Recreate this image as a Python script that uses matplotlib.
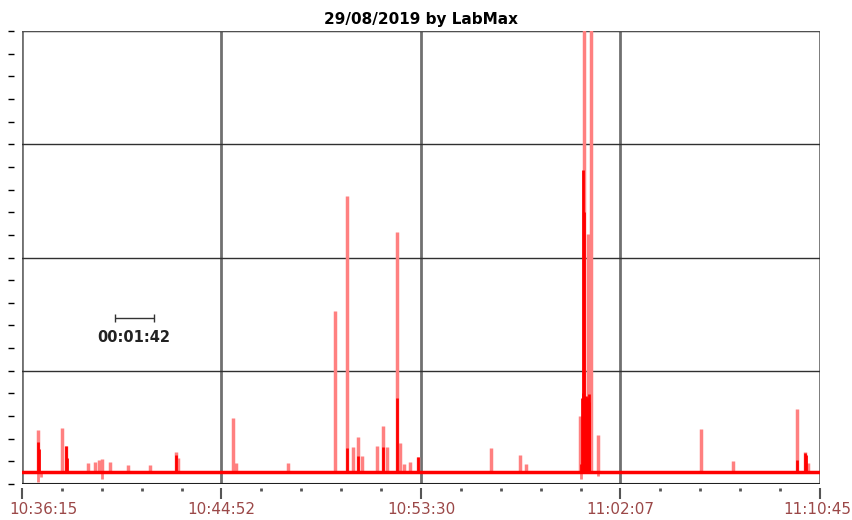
import matplotlib.pyplot as plt
from matplotlib.ticker import MultipleLocator
import numpy as np

# time in seconds after 10:36:15, values in chart units (0-100)
tick_labels = ['10:36:15', '10:44:52', '10:53:30', '11:02:07', '11:10:45']
t_end = 2070
baseline = 2.6

# pale series (max envelope) spikes
max_t = [41.5, 103.8, 114, 171, 189, 200, 208, 228, 275, 332, 399.5, 404,
         547, 556, 690, 812, 843, 859, 872, 882, 921, 936, 947, 973, 981,
         990, 1006, 1027, 1217, 1292, 1307, 1447, 1458, 1468, 1476, 1494,
         1761, 1844, 2010, 2031, 2039]
max_v = [11.9, 12.4, 8.4, 4.6, 4.9, 5.3, 5.5, 4.9, 4.2, 4.2, 7.1, 5.7,
         14.6, 4.6, 4.6, 38.2, 63.6, 8.2, 10.4, 6.2, 8.4, 12.8, 8.2, 55.6, 9.1,
         4.4, 4.9, 6.0, 7.9, 6.4, 4.4, 15.0, 140, 55.2, 140, 10.8,
         12.1, 5.1, 16.6, 7.1, 4.6]

# bright series (mean) spikes
mean_t = [41.5, 44, 114, 118, 399.5, 843, 872, 936, 973, 1027,
          1449, 1452, 1454, 1456, 1458, 1460, 1462, 1464, 1466, 1468, 1470,
          1472, 2010, 2031, 2034]
mean_v = [9.3, 7.7, 8.4, 5.8, 6.4, 8.0, 6.2, 8.2, 19.0, 6.0,
          4.5, 19.0, 20.0, 69.3, 60.0, 19.0, 19.0, 19.5, 19.0, 19.0, 19.9,
          18.0, 5.3, 6.8, 6.4]

# dips below baseline
dip_t = [41.5, 48, 208, 1449, 1494]
dip_v = [0.4, 1.6, 1.0, 1.2, 1.8]

fig = plt.figure(figsize=(8.53, 5.2), dpi=100)
ax = fig.add_axes([22/853, 36/520, 798/853, 453/520])

ax.vlines(max_t, baseline, max_v, color='#ff8080', lw=2.5, zorder=3)
ax.vlines(dip_t, dip_v, baseline, color='#ff8080', lw=2, zorder=3)
ax.vlines(mean_t, baseline, mean_v, color='#ff0000', lw=2, zorder=4)
ax.plot([0, t_end], [baseline, baseline], color='#ff0000', lw=2.5, zorder=4)

ax.set_xlim(0, t_end)
ax.set_ylim(0, 100)

xt = np.linspace(0, t_end, 5)
ax.xaxis.set_minor_locator(MultipleLocator(t_end / 20))
ax.set_xticks(xt)
ax.set_xticklabels([])
ax.yaxis.set_major_locator(MultipleLocator(25))
ax.yaxis.set_minor_locator(MultipleLocator(5))
ax.set_yticklabels([])

ax.tick_params(axis='x', which='major', length=8, width=1.5, color='#555555', direction='out')
ax.tick_params(axis='x', which='minor', length=2, width=2, color='#555555', direction='out')
ax.tick_params(axis='y', which='both', length=4, width=1, color='black', direction='out')

# time labels, end ones nudged to stay inside the figure
shifts = [21, 0, 0, 0, -3]
for x, lab, dx in zip(xt, tick_labels, shifts):
    ax.annotate(lab, xy=(x, 0), xycoords=('data', 'axes fraction'),
                xytext=(dx, -26), textcoords='offset pixels',
                ha='center', va='center', fontsize=11, color='#9b4848',
                annotation_clip=False)

ax.spines['left'].set_position(('outward', 6))
ax.spines['bottom'].set_position(('outward', 3))
for s in ['left', 'bottom', 'top', 'right']:
    ax.spines[s].set_color('none')

ax.grid(axis='x', which='major', color='#707070', lw=2, zorder=1)
ax.grid(axis='y', which='major', color='#303030', lw=1, zorder=1)
ax.axhline(0, color='#202020', lw=1.5, zorder=2)
ax.axhline(100, color='#505050', lw=1.5, zorder=2)

# scale bar
ax.errorbar([240 + 51], [36.6], xerr=[51], color='#333333', lw=1, capsize=3, capthick=1)
ax.text(291, 32.4, '00:01:42', ha='center', va='center', fontsize=10.5, fontweight='bold', color='#222222')

ax.set_title('29/08/2019 by LabMax', fontsize=11, fontweight='bold', pad=5)

plt.savefig('out.png', dpi=100)
